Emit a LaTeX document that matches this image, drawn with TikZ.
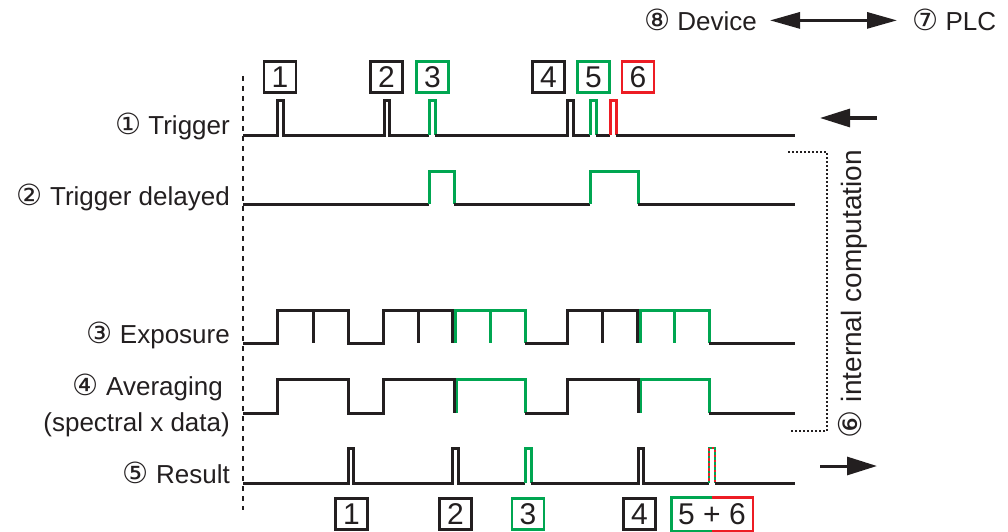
\documentclass[tikz,border=0pt]{standalone}
\usepackage{fontspec}
\setmainfont{Liberation Sans}
\newfontfamily\circfont[Scale=1.12]{DejaVu Sans}
\usetikzlibrary{arrows.meta}
\definecolor{okgreen}{RGB}{0,166,81}
\definecolor{errred}{RGB}{237,28,36}
\definecolor{ink}{RGB}{35,31,32}
\newcommand{\cn}[1]{{\circfont #1}}

\begin{document}
\begin{tikzpicture}[x=1pt,y=-1pt,
  wave/.style={line width=3pt,ink,line join=miter},
  gwave/.style={wave,okgreen},
  rwave/.style={wave,errred},
  lbl/.style={anchor=base east,inner sep=0pt,font=\fontsize{26}{32}\selectfont,text=ink},
  numbox/.style={draw=ink,line width=2.8pt,minimum width=32pt,minimum height=31pt,inner sep=0pt,font=\fontsize{30}{30}\selectfont,text=ink},
  bigtip/.style={line width=3pt,ink,-{Triangle[length=30pt,width=18pt]}}]
\useasboundingbox (0,0) rectangle (1008,532);

% time axis
\draw[ink,line width=2.5pt,dash pattern=on 5pt off 5pt] (243,76) -- (243,510);

% signal names
\node[lbl] (trig) at (230,135) {\cn{①} Trigger};
\node[lbl] (dly) at (230,205) {\cn{②} Trigger delayed};
\node[lbl] (expo) at (230,343) {\cn{③} Exposure};
\node[lbl] (avg) at (223,395) {\cn{④} Averaging};
\node[lbl] (avgb) at (230,431) {(spectral x data)};
\node[lbl] (res) at (230,483) {\cn{⑤} Result};

% trigger
\draw[wave] (243,135) -- (277,135) -- (277,101) -- (283,101) -- (283,135) -- (384,135) -- (384,101) -- (389,101) -- (389,135) -- (429,135);
\draw[gwave] (429,135) -- (429,101) -- (435,101) -- (435,135);
\draw[wave] (435,135) -- (567,135) -- (567,101) -- (573,101) -- (573,135) -- (590,135);
\draw[gwave] (590,135) -- (590,101) -- (596,101) -- (596,135);
\draw[wave] (596,135) -- (610,135);
\draw[rwave] (610,135) -- (610,101) -- (616,101) -- (616,135);
\draw[wave] (616,135) -- (795,135);

\node[numbox] (t1) at (280,77) {1};
\node[numbox] (t2) at (386.5,77) {2};
\node[numbox,draw=okgreen] (t3) at (432.5,77) {3};
\node[numbox] (t4) at (548.5,77) {4};
\node[numbox,draw=okgreen] (t5) at (593.5,77) {5};
\node[numbox,draw=errred] (t6) at (638,77) {6};

% trigger delayed
\draw[wave] (243,204) -- (429,204);
\draw[gwave] (429,204) -- (429,171) -- (454,171) -- (454,204);
\draw[wave] (454,204) -- (590,204);
\draw[gwave] (590,204) -- (590,171) -- (638,171) -- (638,204);
\draw[wave] (638,204) -- (795,204);

% exposure
\draw[gwave] (455,343) -- (455,310) -- (525,310) -- (525,343) (490,310) -- (490,343);
\draw[gwave] (640,343) -- (640,310) -- (709,310) -- (709,343) (674,310) -- (674,343);
\draw[wave] (243,343) -- (277,343) -- (277,310) -- (348,310) -- (348,343) -- (383,343) -- (383,310) -- (452.5,310) -- (452.5,343);
\draw[wave] (313,310) -- (313,343) (418,310) -- (418,343);
\draw[wave] (525,343) -- (567,343) -- (567,310) -- (637.5,310) -- (637.5,343) (602,310) -- (602,343);
\draw[wave] (709,343) -- (795,343);

% averaging
\draw[gwave] (456,413) -- (456,379) -- (525,379) -- (525,413);
\draw[gwave] (640.5,413) -- (640.5,379) -- (709,379) -- (709,413);
\draw[wave] (243,413) -- (277,413) -- (277,379) -- (348,379) -- (348,413) -- (383,413) -- (383,379) -- (454,379) -- (454,413);
\draw[wave] (525,413) -- (567,413) -- (567,379) -- (638,379) -- (638,413);
\draw[wave] (709,413) -- (795,413);

% result
\draw[wave] (243,483) -- (348,483) -- (348,448) -- (353,448) -- (353,483) -- (452,483) -- (452,448) -- (458,448) -- (458,483) -- (525,483);
\draw[gwave] (525,483) -- (525,448) -- (531,448) -- (531,483);
\draw[wave] (531,483) -- (638,483) -- (638,448) -- (643,448) -- (643,483) -- (709,483);
\draw[okgreen,line width=2.5pt,dash pattern=on 2.5pt off 2.5pt] (709,483) -- (709,448) -- (715,448) -- (715,483);
\draw[errred,line width=2.5pt,dash pattern=on 2.5pt off 2.5pt,dash phase=2.5pt] (709,483) -- (709,448) -- (715,448) -- (715,483);
\draw[wave] (715,483) -- (795,483);

\node[numbox] (r1) at (351.5,514) {1};
\node[numbox] (r2) at (455.5,514) {2};
\node[numbox,draw=okgreen] (r3) at (528,514) {3};
\node[numbox] (r4) at (639.5,514) {4};
\node[numbox,draw=none,minimum width=79pt] (r56) at (712,514) {5 + 6};
\draw[okgreen,line width=2.8pt] (r56.north) -| (r56.south west) -- (r56.south);
\draw[errred,line width=2.8pt] (r56.north) -| (r56.south east) -- (r56.south);

% internal computation
\draw[ink,line width=2.2pt,dash pattern=on 2pt off 2pt] (788,152) -- (827,152) -- (827,431) -- (791,431);
\node[lbl,anchor=center,rotate=90,font=\fontsize{28}{32}\selectfont] (comp) at (853,294) {\cn{⑥} internal computation};

\coordinate (inR) at (877,118);
\coordinate (inL) at (820,118);
\draw[bigtip] (inR) -- (inL);
\coordinate (outL) at (820,466);
\coordinate (outR) at (877,466);
\draw[bigtip] (outL) -- (outR);

% device / plc
\node[lbl] (dev) at (757,31) {\cn{⑧} Device};
\node[lbl,anchor=base west] (plc) at (912,31) {\cn{⑦} PLC};
\draw[line width=3pt,ink,{Triangle[length=30pt,width=16pt]}-{Triangle[length=30pt,width=16pt]},shorten <=13pt,shorten >=15pt] (dev) -- (plc);
\end{tikzpicture}
\end{document}
